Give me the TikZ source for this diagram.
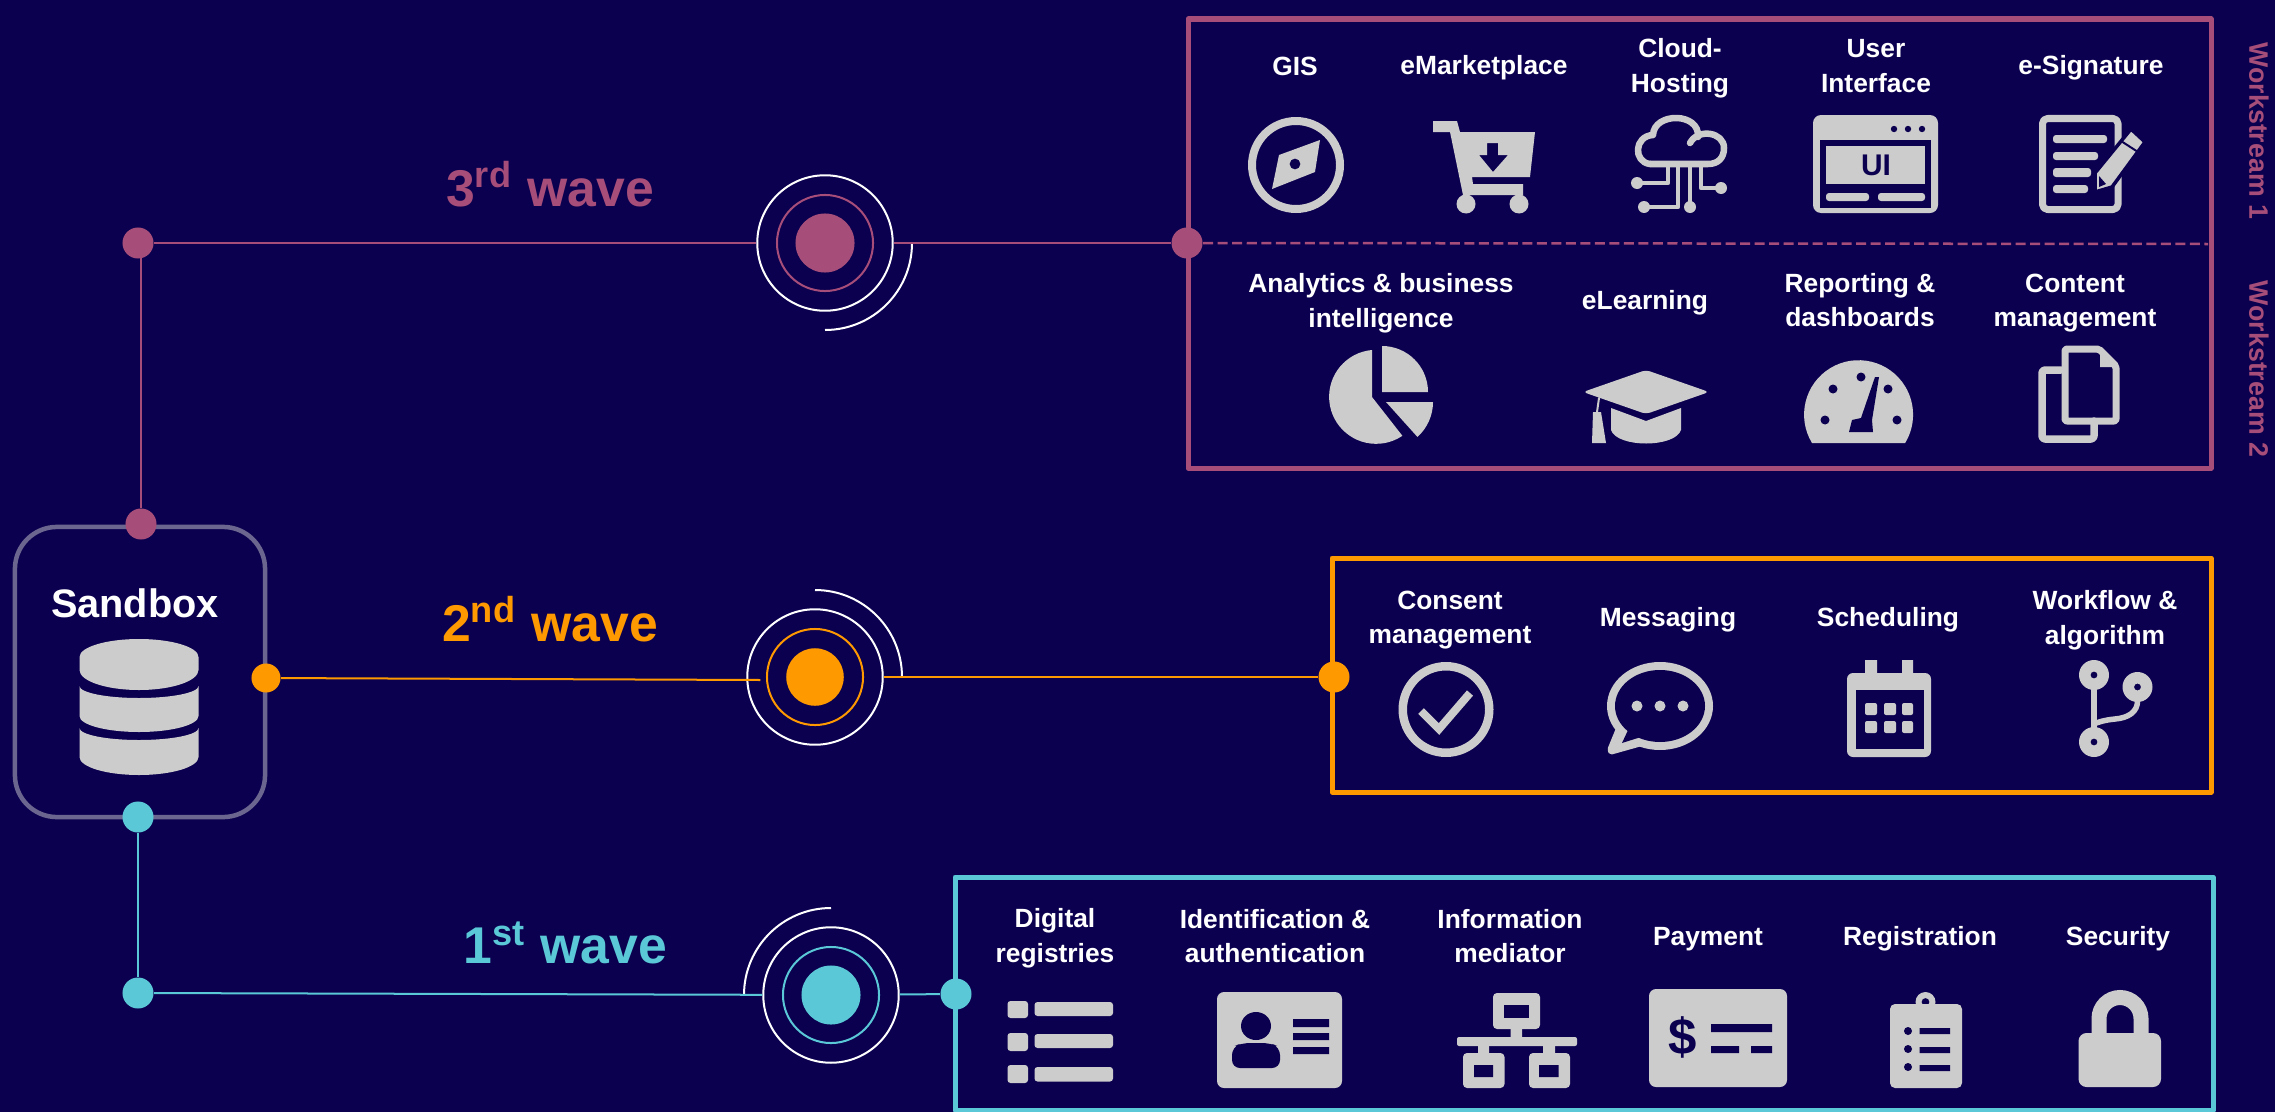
\documentclass[tikz,border=0pt]{standalone}
\usepackage{fontspec}
\setmainfont{Liberation Sans}
\usetikzlibrary{calc}
\definecolor{navybg}{HTML}{0B004F}
\definecolor{wavepurple}{HTML}{A64E79}
\definecolor{waveorange}{HTML}{FF9900}
\definecolor{wavecyan}{HTML}{5BC8D7}
\definecolor{icongray}{HTML}{CCCCCC}
\definecolor{sandboxgray}{HTML}{6B668F}
\tikzset{
	itemlabel/.style={text=white, align=center, inner sep=0, font=\bfseries\fontsize{7.5}{9.9}\selectfont},
	wavelabel/.style={text=#1, inner sep=0, font=\bfseries\fontsize{14.7}{16}\selectfont},
	portdot/.style={circle, fill=#1, inner sep=0, minimum size=0.31cm},
	wavecore/.style={circle, fill=#1, inner sep=0, minimum size=0.59cm},
	wavering/.style={circle, draw=#1, line width=0.2mm, inner sep=0, minimum size=0.96cm},
	waveouter/.style={circle, draw=white, line width=0.2mm, inner sep=0, minimum size=1.354cm},
	waveorbit/.style={draw=white, line width=0.2mm},
	waveline/.style={draw=#1, line width=0.2mm},
	wavebox/.style={draw=#1, line width=0.5mm, line join=round},
	iconfill/.style={fill=icongray, draw=none},
	iconcut/.style={fill=navybg, draw=none},
	iconline/.style={draw=icongray, line cap=round, line join=round}
}

\begin{document}
\begin{tikzpicture}[x=0.01cm, y=-0.01cm]
		%%%%% START %%%%%
		
		\useasboundingbox (0, 0) rectangle (2275, 1112);
		\fill[navybg] (0, 0) rectangle (2275, 1112);
		
		\draw[wavebox=wavepurple] (1188, 19) rectangle (2211, 468);
		\draw[wavebox=waveorange] (1332, 558) rectangle (2211, 792);
		\draw[wavebox=wavecyan] (955, 877) rectangle (2213, 1110);
		
		\node[draw=sandboxgray, line width=0.45mm, rounded corners=0.42cm, minimum width=2.5cm, minimum height=2.9cm, inner sep=0] (sandbox) at (140, 672) {};
		\node[text=white, inner sep=0, font=\bfseries\fontsize{11.3}{13}\selectfont] (sandboxlabel) at (135, 603) {Sandbox};
		
		\node[portdot=wavepurple] (portC) at (141, 524) {};
		\node[portdot=waveorange, minimum size=0.29cm] (portB) at (266, 678) {};
		\node[portdot=wavecyan] (portA) at (138, 817) {};
		\node[portdot=wavepurple] (cornerC) at (138, 243) {};
		\node[portdot=wavecyan] (cornerA) at (138, 993) {};
		\node[portdot=wavepurple] (boxportC) at (1187, 243) {};
		\node[portdot=waveorange] (boxportB) at (1334, 677) {};
		\node[portdot=wavecyan] (boxportA) at (956, 994) {};
		
		\node[wavecore=wavepurple] (coreC) at (825, 243) {};
		\node[wavering=wavepurple] (ringC) at (825, 243) {};
		\node[waveouter] (outerC) at (825, 243) {};
		\node[wavecore=waveorange, minimum size=0.575cm] (coreB) at (815, 677) {};
		\node[wavering=waveorange] (ringB) at (815, 677) {};
		\node[waveouter] (outerB) at (815, 677) {};
		\node[wavecore=wavecyan] (coreA) at (831, 995) {};
		\node[wavering=wavecyan] (ringA) at (831, 995) {};
		\node[waveouter] (outerA) at (831, 995) {};
		
		\draw[waveorbit] (912, 243) arc (0:90:87);
		\draw[waveorbit] (902, 677) arc (0:-90:87);
		\draw[waveorbit] (744, 995) arc (180:270:87);
		
		\draw[waveline=wavepurple] (portC) -- (portC |- cornerC);
		\draw[waveline=wavepurple] (cornerC) -- (outerC);
		\draw[waveline=wavepurple] (outerC) -- (boxportC);
		\draw[waveline=waveorange] (portB) -- ($(outerB.west)+(14, 3)$);
		\draw[waveline=waveorange] (outerB) -- (boxportB);
		\draw[waveline=wavecyan] (portA) -- (cornerA);
		\draw[waveline=wavecyan] (cornerA) -- (outerA);
		\draw[waveline=wavecyan] (outerA) -- (boxportA);
		
		\coordinate (dashend) at (2208, 244);
		\draw[draw=wavepurple, line width=0.25mm, dash pattern=on 1mm off 0.45mm] (boxportC) -- (dashend);
		
		\node[wavelabel=wavepurple] (waveC) at (550, 184) {3\textsuperscript{rd} wave};
		\node[wavelabel=waveorange] (waveB) at (550, 619) {2\textsuperscript{nd} wave};
		\node[wavelabel=wavecyan] (waveA) at (565, 943) {1\textsuperscript{st} wave};
		
		\node[text=wavepurple, rotate=-90, inner sep=0, font=\bfseries\fontsize{7.6}{9}\selectfont] (streamone) at (2259, 131) {Workstream 1};
		\node[text=wavepurple, rotate=-90, inner sep=0, font=\bfseries\fontsize{7.6}{9}\selectfont] (streamtwo) at (2259, 369) {Workstream 2};
		
		\node[itemlabel] (gis) at (1295, 66) {GIS};
		\node[itemlabel] (emarket) at (1484, 68) {eMarketplace};
		\node[itemlabel] (cloud) at (1680, 68) {Cloud-\\Hosting};
		\node[itemlabel] (userui) at (1876, 66) {User\\Interface};
		\node[itemlabel] (esign) at (2091, 68) {e-Signature};
		\node[itemlabel] (analytics) at (1381, 303) {Analytics \& business\\intelligence};
		\node[itemlabel] (elearn) at (1645, 303) {eLearning};
		\node[itemlabel] (reporting) at (1860, 300) {Reporting \&\\dashboards};
		\node[itemlabel] (content) at (2075, 303) {Content\\management};
		\node[itemlabel] (consent) at (1450, 620) {Consent\\management};
		\node[itemlabel] (messaging) at (1668, 620) {Messaging};
		\node[itemlabel] (scheduling) at (1888, 620) {Scheduling};
		\node[itemlabel] (workflow) at (2105, 620) {Workflow \&\\algorithm};
		\node[itemlabel] (registries) at (1055, 938) {Digital\\registries};
		\node[itemlabel] (identity) at (1275, 936) {Identification \&\\authentication};
		\node[itemlabel] (mediator) at (1510, 936) {Information\\mediator};
		\node[itemlabel] (payment) at (1708, 939) {Payment};
		\node[itemlabel] (registration) at (1920, 939) {Registration};
		\node[itemlabel] (security) at (2118, 939) {Security};
		
		\fill[iconfill] (79.5, 657) arc (180:360:59.5 and 18) -- (198.5, 670) arc (0:180:59.5 and 20) -- cycle;
		\fill[iconfill] (79.5, 686) arc (180:0:59.5 and 12) -- (198.5, 716) arc (0:180:59.5 and 16) -- cycle;
		\fill[iconfill] (79.5, 728) arc (180:0:59.5 and 12) -- (198.5, 757) arc (0:180:59.5 and 18) -- cycle;
		
		\fill[iconfill, even odd rule] (1296, 165) circle (48) (1296, 165) circle (40) (1320, 140) -- (1315, 172) -- (1272, 189) -- (1279, 155) -- cycle (1295, 164) circle (5.5);
		
		\fill[iconfill, even odd rule] (1433, 121) -- (1457, 121) -- (1460, 132) -- (1535, 132) -- (1530, 177) -- (1472, 177) -- (1473, 184) -- (1523, 184) -- (1523, 195) -- (1463, 195) -- (1450, 132) -- (1433, 132) -- cycle (1487, 143) -- (1498, 143) -- (1498, 155) -- (1508, 155) -- (1493, 172) -- (1479, 155) -- (1487, 155) -- cycle;
		\fill[iconfill] (1466, 204) circle (9.5) (1519, 204) circle (9.5);
		
		\draw[iconline, line width=0.65mm] (1650, 164) .. controls (1633, 162) and (1634, 136) .. (1653, 135) .. controls (1654, 112) and (1700, 112) .. (1698, 137);
		\draw[iconline, line width=0.65mm] (1690, 143) .. controls (1698, 128) and (1724, 132) .. (1724, 148) .. controls (1724, 158) and (1718, 164) .. (1708, 164) -- (1650, 164);
		\draw[iconline, line width=0.45mm] (1668, 164) -- (1668, 183) -- (1637, 183);
		\draw[iconline, line width=0.45mm] (1701, 164) -- (1701, 188) -- (1721, 188);
		\draw[iconline, line width=0.45mm] (1678, 164) -- (1678, 207) -- (1644, 207);
		\draw[iconline, line width=0.45mm] (1690, 164) -- (1690, 207);
		\fill[iconfill] (1637, 183) circle (6) (1721, 188) circle (6) (1644, 207) circle (6) (1690, 207) circle (6);
		
		\fill[iconfill, rounded corners=0.8mm] (1813, 115) rectangle (1938, 213);
		\fill[iconcut] (1820, 140) rectangle (1931, 208);
		\fill[iconfill] (1826, 146) rectangle (1925, 184);
		\fill[iconfill, rounded corners=0.3mm] (1826, 193) rectangle (1869, 201) (1878, 193) rectangle (1925, 201);
		\fill[iconcut] (1894, 129) circle (3.2) (1908, 129) circle (3.2) (1922, 129) circle (3.2);
		\node[text=navybg, inner sep=0, font=\bfseries\fontsize{8.5}{10}\selectfont] (uiglyph) at (1876, 165) {UI};
		
		\draw[iconline, line width=0.7mm, rounded corners=0.5mm] (2042.5, 118.5) rectangle (2118, 209.5);
		\fill[iconfill, rounded corners=0.3mm] (2053, 135) rectangle (2107, 143) (2053, 152) rectangle (2098, 160) (2053, 168) rectangle (2091, 177) (2053, 185) rectangle (2088, 193);
		\fill[iconfill, draw=navybg, line width=0.35mm, line join=round] (2145, 142) -- (2131, 129) -- (2095, 173) -- (2095, 192) -- (2112, 187) -- cycle;
		\draw[navybg, line width=0.2mm] (2121, 141) -- (2138, 152);
		\fill[iconcut] (2099, 176) -- (2099, 187) -- (2106, 184) -- cycle;
		
		\fill[iconfill] (1372, 350) arc (265:56:47) -- (1372, 397) -- cycle;
		\fill[iconfill] (1382, 346) arc (-90:0:46) -- (1382, 392) -- cycle;
		\fill[iconfill] (1433, 402) arc (0:48:47) -- (1386, 402) -- cycle;
		
		\fill[iconfill, rounded corners=0.4mm] (1583, 392) -- (1646, 370) -- (1709, 392) -- (1646, 414) -- cycle;
		\fill[iconfill] (1611, 408) -- (1646, 421) -- (1681, 408) -- (1681, 430) .. controls (1675, 448) and (1617, 448) .. (1611, 430) -- cycle;
		\draw[iconline, line width=0.2mm] (1599, 398) -- (1597, 412);
		\fill[iconfill] (1593, 412) -- (1601, 412) -- (1606, 443) -- (1592, 443) -- cycle;
		
		\fill[iconfill] (1812, 443) arc (148.7:391.3:54.5) -- cycle;
		\fill[iconcut] (1861, 377) circle (4.5) (1833, 389) circle (4.5) (1888, 389) circle (4.5) (1825, 420) circle (4.5) (1897, 420) circle (4.5);
		\fill[iconcut] (1875, 377) -- (1879, 377) -- (1872, 420) -- (1873, 432) -- (1849, 432) -- (1852, 420) -- (1861, 418) -- cycle;
		
		\draw[iconline, line width=0.75mm, rounded corners=0.3mm] (2061, 370) -- (2042, 370) -- (2042, 439) -- (2094, 439) -- (2094, 421);
		\draw[iconline, line width=0.7mm, rounded corners=0.2mm] (2065, 349) -- (2099, 349) -- (2116, 366) -- (2116, 421) -- (2065, 421) -- cycle;
		\fill[iconfill] (2100, 349) -- (2116, 367) -- (2100, 367) -- cycle;
		
		\fill[iconfill, even odd rule] (1446, 709.5) circle (47.5) (1446, 709.5) circle (39);
		\draw[icongray, line width=0.8mm] (1421, 711) -- (1439, 729) -- (1470, 693);
		
		\fill[iconfill] (1660, 706) ellipse (53 and 44);
		\fill[iconfill, rounded corners=0.2mm] (1616, 728) -- (1607, 750) -- (1610, 755) -- (1642, 746) -- cycle;
		\fill[iconcut] (1660, 706) ellipse (45 and 36);
		\fill[iconcut] (1629, 728) -- (1622, 743) -- (1641, 737) -- cycle;
		\fill[iconfill] (1637, 706) circle (5.5) (1660, 706) circle (5.5) (1683, 706) circle (5.5);
		
		\fill[iconfill, rounded corners=0.6mm] (1847, 673) rectangle (1931, 757);
		\fill[iconfill] (1865, 660) rectangle (1877, 675) (1902, 660) rectangle (1913, 675);
		\fill[iconcut] (1855.5, 690) rectangle (1924, 749);
		\fill[iconfill, rounded corners=0.2mm] (1865, 703) rectangle (1877, 715) (1884, 703) rectangle (1896, 715) (1902, 703) rectangle (1913, 715) (1865, 721) rectangle (1877, 733) (1884, 721) rectangle (1896, 733) (1902, 721) rectangle (1913, 733);
		
		\draw[icongray, line width=0.55mm] (2094, 688) -- (2094, 729);
		\draw[icongray, line width=0.55mm] (2137.5, 700) .. controls (2138, 712) and (2128, 718) .. (2115, 719) .. controls (2105, 720) and (2098, 722) .. (2094, 724);
		\fill[iconfill, even odd rule] (2094, 675) circle (15) (2094, 675) circle (3.5) (2094, 742) circle (15) (2094, 742) circle (3.5) (2137.5, 687) circle (15) (2137.5, 687) circle (3.5);
		
		\fill[iconfill, rounded corners=0.3mm] (1007.5, 1001) rectangle (1028, 1018) (1007.5, 1033) rectangle (1028, 1051) (1007.5, 1065) rectangle (1028, 1083) (1034.5, 1002) rectangle (1113, 1016) (1034.5, 1034) rectangle (1113, 1048) (1034.5, 1067) rectangle (1113, 1081.5);
		
		\fill[iconfill, rounded corners=0.7mm] (1217, 992) rectangle (1342, 1088);
		\fill[iconcut] (1256, 1026) ellipse (15 and 14);
		\fill[iconcut, rounded corners=0.8mm] (1232, 1068) -- (1232, 1047) -- (1242, 1043) -- (1270, 1043) -- (1280, 1047) -- (1280, 1068) -- cycle;
		\fill[iconcut] (1293, 1019) rectangle (1329, 1027) (1293, 1033) rectangle (1329, 1040) (1293, 1047) rectangle (1329, 1054);
		
		\fill[iconfill, rounded corners=0.4mm] (1493, 993) rectangle (1540, 1029);
		\fill[iconcut] (1504, 1005) rectangle (1529, 1018);
		\fill[iconfill] (1510.5, 1029) rectangle (1522, 1037) (1478, 1045) rectangle (1489, 1054) (1543, 1045) rectangle (1555, 1054);
		\fill[iconfill, rounded corners=0.2mm] (1457, 1037) rectangle (1577, 1046);
		\fill[iconfill, rounded corners=0.4mm] (1463, 1053) rectangle (1504.5, 1088) (1529, 1053) rectangle (1570, 1088);
		\fill[iconcut] (1474, 1065) rectangle (1493, 1077) (1539, 1065) rectangle (1558.5, 1077);
		
		\fill[iconfill, rounded corners=0.7mm] (1649, 989) rectangle (1787, 1087);
		\fill[iconcut] (1711, 1024) rectangle (1772, 1032) (1711, 1046) rectangle (1739, 1053) (1751, 1046) rectangle (1772, 1053);
		\node[text=navybg, inner sep=0, font=\bfseries\fontsize{14.5}{16}\selectfont] (dollarglyph) at (1683, 1037) {\$};
		
		\fill[iconfill, rounded corners=0.5mm] (1890, 1004) rectangle (1962, 1088);
		\fill[iconfill, even odd rule] (1925.5, 1002) circle (10) (1925.5, 1002) circle (4);
		\fill[iconcut] (1908, 1031) circle (4) (1908, 1049) circle (4) (1908, 1067) circle (4) (1919.5, 1028) rectangle (1950, 1034) (1919.5, 1047) rectangle (1950, 1053) (1919.5, 1065) rectangle (1950, 1071);
		
		\draw[icongray, line width=1.5mm] (2099, 1040) -- (2099, 1018.5) arc (180:360:21) -- (2141, 1040);
		\fill[iconfill, rounded corners=0.8mm] (2078.5, 1033) rectangle (2161, 1087);
		
		%%%%% END %%%%%
	\end{tikzpicture}
\end{document}
